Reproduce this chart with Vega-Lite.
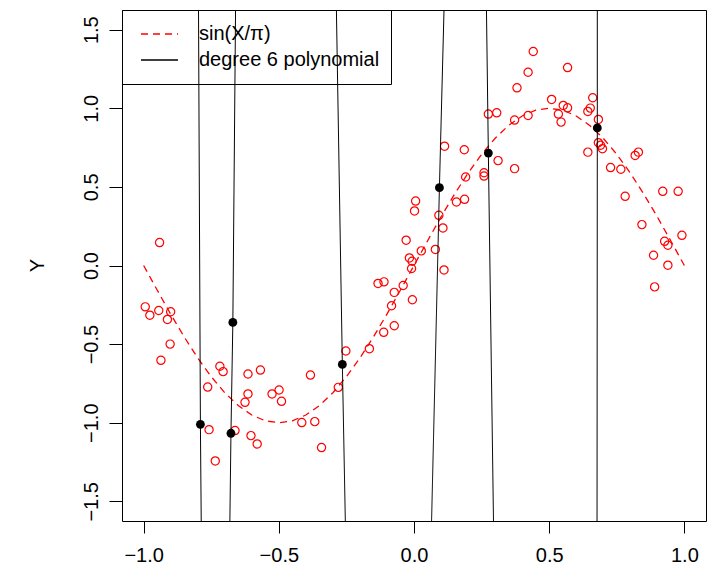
{
  "$schema": "https://vega.github.io/schema/vega-lite/v6.json",
  "width": 584,
  "height": 511,
  "autosize": {"type": "none"},
  "padding": {"left": 122, "top": 10, "right": 7, "bottom": 47},
  "background": "white",
  "config": {
    "font": "Liberation Sans",
    "view": {"stroke": "black", "strokeWidth": 1},
    "axis": {
      "domain": false,
      "grid": false,
      "tickColor": "black",
      "tickWidth": 1,
      "labelFont": "Liberation Sans",
      "labelFontSize": 20,
      "labelColor": "black",
      "titleFont": "Liberation Sans",
      "titleFontSize": 20,
      "titleFontWeight": "normal",
      "titleColor": "black"
    }
  },
  "datasets": {
    "pts": [
      {"x": -0.941, "y": 0.146}, {"x": -0.994, "y": -0.263}, {"x": -0.977, "y": -0.316}, {"x": -0.944, "y": -0.286},
      {"x": -0.900, "y": -0.294}, {"x": -0.912, "y": -0.343}, {"x": -0.902, "y": -0.500}, {"x": -0.936, "y": -0.603},
      {"x": -0.718, "y": -0.641}, {"x": -0.706, "y": -0.675}, {"x": -0.763, "y": -0.773}, {"x": -0.614, "y": -0.690},
      {"x": -0.568, "y": -0.665}, {"x": -0.614, "y": -0.817}, {"x": -0.625, "y": -0.870}, {"x": -0.525, "y": -0.817},
      {"x": -0.499, "y": -0.792}, {"x": -0.490, "y": -0.864}, {"x": -0.383, "y": -0.697}, {"x": -0.280, "y": -0.775},
      {"x": -0.415, "y": -0.999}, {"x": -0.367, "y": -0.993}, {"x": -0.758, "y": -1.044}, {"x": -0.662, "y": -1.050},
      {"x": -0.603, "y": -1.082}, {"x": -0.580, "y": -1.135}, {"x": -0.342, "y": -1.158}, {"x": -0.735, "y": -1.243},
      {"x": 0.441, "y": 1.361}, {"x": 0.422, "y": 1.229}, {"x": 0.381, "y": 1.130}, {"x": 0.275, "y": 0.963},
      {"x": 0.306, "y": 0.971}, {"x": 0.372, "y": 0.925}, {"x": 0.422, "y": 0.954}, {"x": 0.113, "y": 0.759},
      {"x": 0.186, "y": 0.736}, {"x": 0.311, "y": 0.667}, {"x": 0.372, "y": 0.616}, {"x": 0.191, "y": 0.563},
      {"x": 0.259, "y": 0.590}, {"x": 0.259, "y": 0.569}, {"x": 0.006, "y": 0.410}, {"x": 0.002, "y": 0.347},
      {"x": 0.157, "y": 0.404}, {"x": 0.187, "y": 0.421}, {"x": 0.092, "y": 0.319}, {"x": 0.107, "y": 0.239},
      {"x": -0.029, "y": 0.161}, {"x": 0.027, "y": 0.093}, {"x": 0.079, "y": 0.102}, {"x": -0.017, "y": 0.048},
      {"x": -0.007, "y": 0.027}, {"x": -0.009, "y": -0.019}, {"x": 0.111, "y": -0.028}, {"x": -0.133, "y": -0.114},
      {"x": -0.111, "y": -0.104}, {"x": -0.040, "y": -0.127}, {"x": -0.073, "y": -0.171}, {"x": -0.006, "y": -0.218},
      {"x": -0.083, "y": -0.256}, {"x": -0.073, "y": -0.383}, {"x": -0.112, "y": -0.425}, {"x": -0.252, "y": -0.544},
      {"x": -0.165, "y": -0.529}, {"x": 0.568, "y": 1.259}, {"x": 0.509, "y": 1.056}, {"x": 0.552, "y": 1.018},
      {"x": 0.568, "y": 1.003}, {"x": 0.534, "y": 0.963}, {"x": 0.544, "y": 0.912}, {"x": 0.661, "y": 1.067},
      {"x": 0.652, "y": 1.001}, {"x": 0.643, "y": 0.980}, {"x": 0.682, "y": 0.929}, {"x": 0.682, "y": 0.781},
      {"x": 0.697, "y": 0.743}, {"x": 0.690, "y": 0.765}, {"x": 0.643, "y": 0.721}, {"x": 0.818, "y": 0.700},
      {"x": 0.830, "y": 0.721}, {"x": 0.727, "y": 0.623}, {"x": 0.765, "y": 0.612}, {"x": 0.781, "y": 0.440},
      {"x": 0.920, "y": 0.472}, {"x": 0.977, "y": 0.472}, {"x": 0.843, "y": 0.260}, {"x": 0.991, "y": 0.192},
      {"x": 0.927, "y": 0.154}, {"x": 0.939, "y": 0.129}, {"x": 0.886, "y": 0.065}, {"x": 0.939, "y": 0.002},
      {"x": 0.890, "y": -0.136}
    ],
    "knots": [
      {"x": -0.790, "y": -1.010}, {"x": -0.670, "y": -0.362}, {"x": -0.677, "y": -1.067}, {"x": -0.265, "y": -0.629},
      {"x": 0.094, "y": 0.495}, {"x": 0.275, "y": 0.715}, {"x": 0.678, "y": 0.875}
    ],
    "sine": [
      {"series": "sin(X/π)", "x": -1.00, "y": 0.000}, {"series": "sin(X/π)", "x": -0.95, "y": -0.156},
      {"series": "sin(X/π)", "x": -0.90, "y": -0.309}, {"series": "sin(X/π)", "x": -0.85, "y": -0.454},
      {"series": "sin(X/π)", "x": -0.80, "y": -0.588}, {"series": "sin(X/π)", "x": -0.75, "y": -0.707},
      {"series": "sin(X/π)", "x": -0.70, "y": -0.809}, {"series": "sin(X/π)", "x": -0.65, "y": -0.891},
      {"series": "sin(X/π)", "x": -0.60, "y": -0.951}, {"series": "sin(X/π)", "x": -0.55, "y": -0.988},
      {"series": "sin(X/π)", "x": -0.50, "y": -1.000}, {"series": "sin(X/π)", "x": -0.45, "y": -0.988},
      {"series": "sin(X/π)", "x": -0.40, "y": -0.951}, {"series": "sin(X/π)", "x": -0.35, "y": -0.891},
      {"series": "sin(X/π)", "x": -0.30, "y": -0.809}, {"series": "sin(X/π)", "x": -0.25, "y": -0.707},
      {"series": "sin(X/π)", "x": -0.20, "y": -0.588}, {"series": "sin(X/π)", "x": -0.15, "y": -0.454},
      {"series": "sin(X/π)", "x": -0.10, "y": -0.309}, {"series": "sin(X/π)", "x": -0.05, "y": -0.156},
      {"series": "sin(X/π)", "x": 0.00, "y": 0.000}, {"series": "sin(X/π)", "x": 0.05, "y": 0.156},
      {"series": "sin(X/π)", "x": 0.10, "y": 0.309}, {"series": "sin(X/π)", "x": 0.15, "y": 0.454},
      {"series": "sin(X/π)", "x": 0.20, "y": 0.588}, {"series": "sin(X/π)", "x": 0.25, "y": 0.707},
      {"series": "sin(X/π)", "x": 0.30, "y": 0.809}, {"series": "sin(X/π)", "x": 0.35, "y": 0.891},
      {"series": "sin(X/π)", "x": 0.40, "y": 0.951}, {"series": "sin(X/π)", "x": 0.45, "y": 0.988},
      {"series": "sin(X/π)", "x": 0.50, "y": 1.000}, {"series": "sin(X/π)", "x": 0.55, "y": 0.988},
      {"series": "sin(X/π)", "x": 0.60, "y": 0.951}, {"series": "sin(X/π)", "x": 0.65, "y": 0.891},
      {"series": "sin(X/π)", "x": 0.70, "y": 0.809}, {"series": "sin(X/π)", "x": 0.75, "y": 0.707},
      {"series": "sin(X/π)", "x": 0.80, "y": 0.588}, {"series": "sin(X/π)", "x": 0.85, "y": 0.454},
      {"series": "sin(X/π)", "x": 0.90, "y": 0.309}, {"series": "sin(X/π)", "x": 0.95, "y": 0.156},
      {"series": "sin(X/π)", "x": 1.00, "y": 0.000}
    ],
    "poly": [
      {"series": "degree 6 polynomial", "seg": 1, "i": 1, "x": -0.797, "y": 1.625},
      {"series": "degree 6 polynomial", "seg": 1, "i": 2, "x": -0.790, "y": -1.010},
      {"series": "degree 6 polynomial", "seg": 1, "i": 3, "x": -0.787, "y": -1.625},
      {"series": "degree 6 polynomial", "seg": 2, "i": 1, "x": -0.660, "y": 1.625},
      {"series": "degree 6 polynomial", "seg": 2, "i": 2, "x": -0.670, "y": -0.362},
      {"series": "degree 6 polynomial", "seg": 2, "i": 3, "x": -0.677, "y": -1.067},
      {"series": "degree 6 polynomial", "seg": 2, "i": 4, "x": -0.681, "y": -1.625},
      {"series": "degree 6 polynomial", "seg": 3, "i": 1, "x": -0.287, "y": 1.625},
      {"series": "degree 6 polynomial", "seg": 3, "i": 2, "x": -0.265, "y": -0.629},
      {"series": "degree 6 polynomial", "seg": 3, "i": 3, "x": -0.254, "y": -1.625},
      {"series": "degree 6 polynomial", "seg": 4, "i": 1, "x": 0.111, "y": 1.625},
      {"series": "degree 6 polynomial", "seg": 4, "i": 2, "x": 0.094, "y": 0.495},
      {"series": "degree 6 polynomial", "seg": 4, "i": 3, "x": 0.065, "y": -1.625},
      {"series": "degree 6 polynomial", "seg": 5, "i": 1, "x": 0.268, "y": 1.625},
      {"series": "degree 6 polynomial", "seg": 5, "i": 2, "x": 0.275, "y": 0.715},
      {"series": "degree 6 polynomial", "seg": 5, "i": 3, "x": 0.294, "y": -1.625},
      {"series": "degree 6 polynomial", "seg": 6, "i": 1, "x": 0.678, "y": 1.625},
      {"series": "degree 6 polynomial", "seg": 6, "i": 2, "x": 0.678, "y": 0.875},
      {"series": "degree 6 polynomial", "seg": 6, "i": 3, "x": 0.677, "y": -1.625}
    ]
  },
  "encoding": {
    "x": {
      "field": "x", "type": "quantitative",
      "scale": {"domain": [-1.08, 1.08], "nice": false, "zero": false},
      "axis": {"values": [-1, -0.5, 0, 0.5, 1], "format": ".1f", "tickSize": 12, "labelPadding": 12, "labelFlush": false, "labelOverlap": false, "title": null}
    },
    "y": {
      "field": "y", "type": "quantitative",
      "scale": {"domain": [-1.625, 1.625], "nice": false, "zero": false},
      "axis": {"values": [-1.5, -1, -0.5, 0, 0.5, 1, 1.5], "format": ".1f", "tickSize": 13, "labelPadding": 12,
        "labelAngle": -90, "labelAlign": "center", "labelBaseline": "alphabetic", "labelOverlap": false, "labelFlush": false,
        "title": "Y", "titleAngle": -90, "titleX": -85, "titleY": 255, "titleAlign": "center", "titleBaseline": "middle"}
    }
  },
  "layer": [
    {
      "data": {"name": "pts"},
      "mark": {"type": "point", "shape": "circle", "filled": false, "color": "#ff0000", "size": 68, "strokeWidth": 1.2, "opacity": 1}
    },
    {
      "data": {"name": "sine"},
      "mark": {"type": "line", "strokeWidth": 1.3, "clip": true},
      "encoding": {
        "color": {"field": "series", "type": "nominal",
          "scale": {"domain": ["sin(X/π)", "degree 6 polynomial"], "range": ["#ff0000", "#000000"]},
          "legend": {"orient": "none", "legendX": 0, "legendY": 0, "title": null, "symbolType": "stroke", "symbolSize": 1369,
            "clipHeight": 26, "rowPadding": 0, "padding": 11, "symbolOffset": 7, "strokeColor": "black", "labelFontSize": 20, "labelOffset": 20,
            "labelLimit": 400, "symbolStrokeWidth": 1.3, "labelColor": "black", "labelFont": "Liberation Sans"}},
        "strokeDash": {"field": "series", "type": "nominal",
          "scale": {"domain": ["sin(X/π)", "degree 6 polynomial"], "range": [[7, 5], [1, 0]]},
          "legend": {"orient": "none", "legendX": 0, "legendY": 0, "title": null, "symbolType": "stroke", "symbolSize": 1369,
            "clipHeight": 26, "rowPadding": 0, "padding": 11, "symbolOffset": 7, "strokeColor": "black", "labelFontSize": 20, "labelOffset": 20,
            "labelLimit": 400, "symbolStrokeWidth": 1.3, "labelColor": "black", "labelFont": "Liberation Sans"}}
      }
    },
    {
      "data": {"name": "poly"},
      "mark": {"type": "line", "strokeWidth": 1, "clip": true},
      "encoding": {
        "detail": {"field": "seg", "type": "nominal"},
        "order": {"field": "i", "type": "quantitative"},
        "color": {"field": "series", "type": "nominal"},
        "strokeDash": {"field": "series", "type": "nominal"}
      }
    },
    {
      "data": {"name": "knots"},
      "mark": {"type": "circle", "color": "black", "size": 78, "opacity": 1}
    }
  ]
}
